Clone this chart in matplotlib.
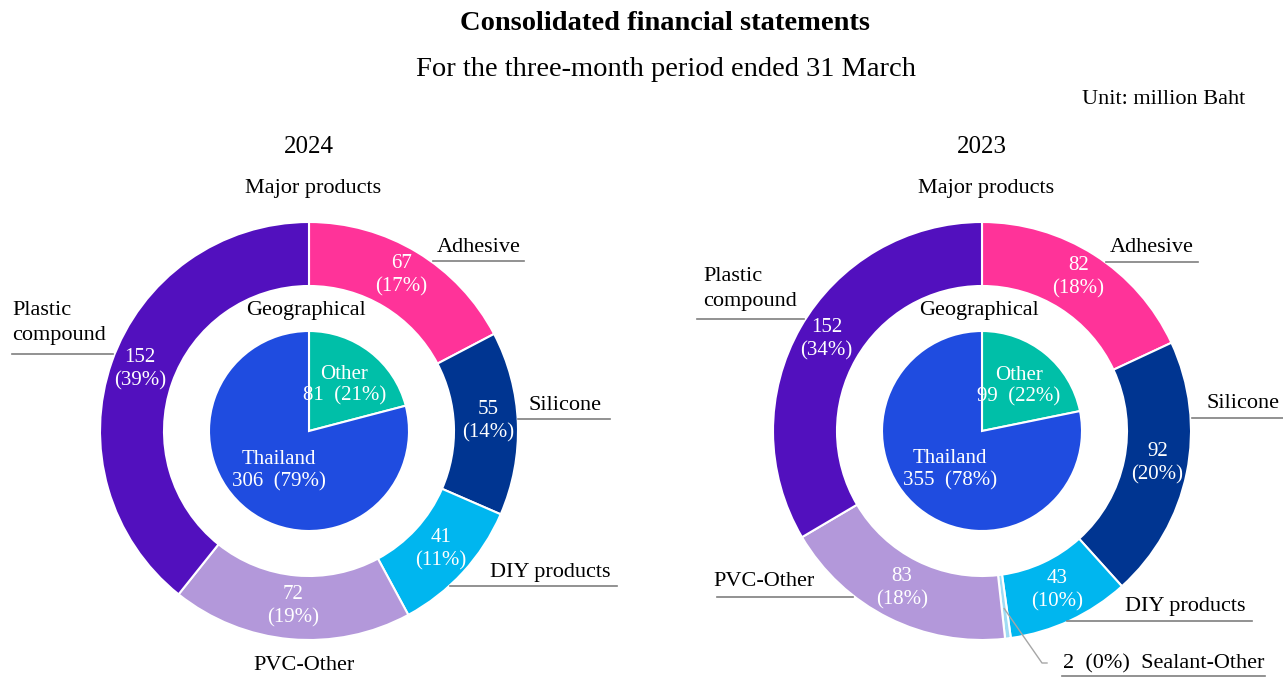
import numpy as np
import matplotlib.pyplot as plt

plt.rcParams['font.family'] = ['Liberation Serif', 'DejaVu Serif']

# data (million Baht)
segments_2024 = ['Adhesive', 'Silicone', 'DIY products', 'PVC-Other', 'Plastic compound']
values_2024 = [67, 55, 41, 72, 152]
pcts_2024 = [17, 14, 11, 19, 39]

segments_2023 = ['Adhesive', 'Silicone', 'DIY products', 'Sealant-Other', 'PVC-Other', 'Plastic compound']
values_2023 = [82, 92, 43, 2, 83, 152]
pcts_2023 = [18, 20, 10, 0, 18, 34]

regions = ['Other', 'Thailand']
region_values_2024 = [81, 306]
region_pcts_2024 = [21, 79]
region_values_2023 = [99, 355]
region_pcts_2023 = [22, 78]

seg_colors = {
    'Adhesive': '#FF3399',
    'Silicone': '#003591',
    'DIY products': '#00B6EF',
    'Sealant-Other': '#A0DCF4',
    'PVC-Other': '#B398DA',
    'Plastic compound': '#5210BE',
}
region_colors = {'Other': '#00BFA8', 'Thailand': '#1F4CE0'}
region_label_r = {'Other': 58, 'Thailand': 50}

# outside label layout in pixels: text x, text y, ha, underline x0, x1, y
layout_2024 = {
    'Adhesive': (437, 248, 'left', 433, 524, 261),
    'Silicone': (528, 405, 'left', 518, 610, 419),
    'DIY products': (490, 572, 'left', 450, 617, 586),
    'PVC-Other': (304, 665, 'center', None, None, None),
    'Plastic compound': (12, 323, 'left', 12, 113, 354),
}
layout_2023 = {
    'Adhesive': (1110, 248, 'left', 1106, 1198, 262),
    'Silicone': (1207, 404, 'left', 1192, 1283, 418),
    'DIY products': (1125, 606, 'left', 1067, 1252, 621),
    'PVC-Other': (713, 582, 'left', 717, 853, 597),
    'Plastic compound': (703, 289, 'left', 697, 804, 319),
}

W, H = 1283, 677
R_OUT, RING_W, R_IN = 209, 64, 100

fig = plt.figure(figsize=(W / 100, H / 100), dpi=100)
ax = fig.add_axes([0, 0, 1, 1])


def ring_point(cx, cy, r, frac):
    # clockwise from 12 o'clock, screen coords (y down)
    a = np.radians(-90 + 360 * frac)
    return cx + r * np.cos(a), cy + r * np.sin(a)


def draw_chart(cx, cy, year, names, vals, pcts, rvals, rpcts, layout):
    wp = dict(edgecolor='white', linewidth=1.5)
    ax.pie(vals, colors=[seg_colors[n] for n in names], radius=R_OUT, center=(cx, cy),
           startangle=-90, counterclock=True, wedgeprops=dict(width=RING_W, **wp))
    ax.pie(rvals, colors=[region_colors[n] for n in regions], radius=R_IN, center=(cx, cy),
           startangle=-90, counterclock=True, wedgeprops=wp)

    total = sum(vals)
    cum = 0
    r_mid = R_OUT - RING_W / 2 + 2
    for n, v, p in zip(names, vals, pcts):
        frac = (cum + v / 2) / total
        x, y = ring_point(cx, cy, r_mid, frac)
        if v / total > 0.02:
            ax.text(x, y - 3, f'{v}\n({p}%)', color='white', fontsize=15,
                    ha='center', va='center', linespacing=1.3)
        else:
            # tiny slice: leader line out to the label
            ax.plot([x, 1042, 1047], [y, 663, 663], color='#A6A6A6', lw=1)
            ax.text(1063, 664, f'{v}  ({p}%)  {n}', fontsize=16, ha='left', va='center')
            ax.plot([1062, 1265], [676, 676], color='#7F7F7F', lw=1.2)
        cum += v

    for n, (tx, ty, ha, x0, x1, ly) in layout.items():
        label = 'Plastic\ncompound' if n == 'Plastic compound' else n
        ax.text(tx, ty, label, fontsize=16, ha=ha, va='center', linespacing=1.45)
        if x0 is not None:
            ax.plot([x0, x1], [ly, ly], color='#7F7F7F', lw=1.2)

    rtotal = sum(rvals)
    cum = 0
    for n, v, p in zip(regions, rvals, rpcts):
        frac = (cum + v / 2) / rtotal
        x, y = ring_point(cx, cy, region_label_r[n], frac)
        ax.text(x, y, f'{n}\n{v}  ({p}%)', color='white', fontsize=15,
                ha='center', va='center', linespacing=1.2)
        cum += v

    ax.text(cx, 147, year, fontsize=18, ha='center', va='center')
    ax.text(cx + 4, 189, 'Major products', fontsize=16, ha='center', va='center')
    ax.text(cx - 3, 310, 'Geographical', fontsize=16, ha='center', va='center')


draw_chart(309, 431, '2024', segments_2024, values_2024, pcts_2024,
           region_values_2024, region_pcts_2024, layout_2024)
draw_chart(982, 431, '2023', segments_2023, values_2023, pcts_2023,
           region_values_2023, region_pcts_2023, layout_2023)

ax.text(W / 2 + 24, 24, 'Consolidated financial statements', fontsize=20.5,
        fontweight='bold', ha='center', va='center')
ax.text(W / 2 + 24, 70, 'For the three-month period ended 31 March', fontsize=20.5,
        ha='center', va='center')
ax.text(1245, 99, 'Unit: million Baht', fontsize=16, ha='right', va='center')

ax.set_xlim(0, W)
ax.set_ylim(H, 0)
ax.set_aspect('equal')
ax.axis('off')

fig.savefig('out.png', dpi=100)
